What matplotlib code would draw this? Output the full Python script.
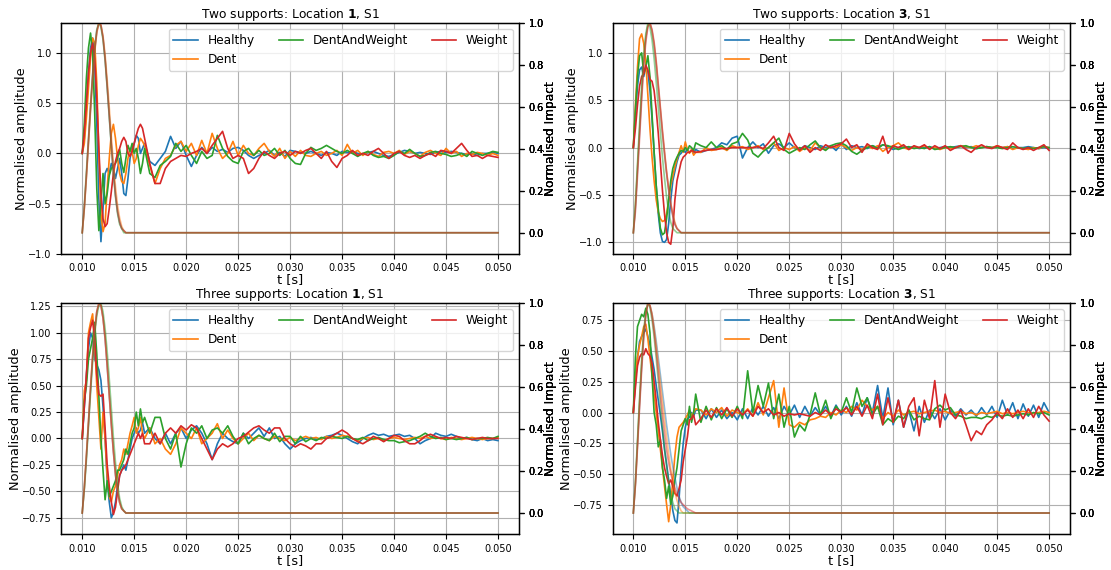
import numpy as np
import matplotlib.pyplot as plt

# time grid: fine around the impact, coarser afterwards
t_fine = np.round(np.arange(0.0100, 0.01601, 0.0002), 4)
t_coarse = np.round(np.arange(0.0165, 0.05001, 0.0005), 4)
t = np.concatenate([t_fine, t_coarse])
t_imp = np.append(np.round(np.arange(0.0100, 0.01701, 0.0002), 4), 0.050)

conditions = ["Healthy", "Dent", "DentAndWeight", "Weight"]
colors = ["tab:blue", "tab:orange", "tab:green", "tab:red"]

# ---------- Two supports, location 1 ----------
p1_healthy = [0.0, 0.15, 0.45, 0.8, 1.05, 1.15, 0.9, 0.3, -0.45, -0.88,
              -0.55, -0.2, -0.15, -0.2, -0.1, -0.15, -0.25, -0.15, -0.05, -0.2,
              -0.4, -0.42, -0.25, -0.05, 0.05, 0.1, 0.18, 0.15, 0.0, 0.05, 0.1,
              -0.08, -0.12, -0.05, 0.02, 0.17, 0.05, 0.12, -0.02, -0.13, -0.02,
              0.06, 0.0, 0.06, 0.02, 0.04, 0.01, 0.05, 0.06, 0.03, -0.02,
              -0.05, -0.02, 0.0, 0.03, -0.02, 0.01, -0.03, 0.03, 0.02, 0.01,
              0.0, 0.02, 0.0, -0.02, 0.01, 0.0, -0.02, 0.02, 0.01, 0.02,
              0.0, -0.01, 0.01, 0.02, 0.0, -0.02, -0.03, -0.01, 0.01, 0.03,
              0.02, 0.0, 0.01, 0.0, -0.01, 0.01, 0.02, 0.01, 0.02, 0.01,
              0.0, -0.01, 0.0, -0.02, 0.0, 0.0, 0.01, 0.0]
p1_dent = [0.0, 0.1, 0.35, 0.65, 0.95, 1.15, 1.1, 0.7, 0.0, -0.6,
           -0.78, -0.7, -0.35, -0.05, 0.2, 0.29, 0.15, -0.05, -0.2, -0.28,
           -0.3, -0.2, -0.05, 0.05, 0.02, -0.1, -0.05, 0.08, 0.15, 0.12, 0.08,
           -0.12, -0.3, -0.15, -0.05, -0.02, 0.08, 0.12, 0.02, 0.1, -0.02,
           0.13, 0.0, 0.2, 0.05, -0.05, 0.0, 0.12, -0.02, 0.08, 0.0,
           -0.02, 0.05, 0.1, 0.02, -0.03, 0.05, -0.05, 0.02, -0.03, 0.03,
           -0.02, -0.03, 0.0, 0.02, -0.02, 0.0, 0.03, -0.02, 0.09, 0.0,
           0.03, -0.02, 0.02, -0.01, -0.03, 0.01, 0.02, 0.0, 0.03, -0.01,
           0.02, 0.0, -0.03, 0.01, 0.03, 0.0, -0.02, 0.05, 0.0, 0.02,
           -0.03, 0.0, -0.01, 0.01, 0.0, -0.02, 0.0, -0.02]
p1_dentweight = [0.0, 0.3, 0.75, 1.05, 1.2, 1.0, 0.4, -0.35, -0.77, -0.5,
                 -0.2, -0.5, -0.4, -0.22, -0.15, -0.12, -0.1, -0.05, 0.04, -0.1,
                 -0.19, -0.05, 0.08, 0.02, 0.1, 0.0, 0.05, -0.05, -0.2, -0.1, 0.05,
                 -0.2, -0.24, -0.12, -0.08, -0.03, 0.1, 0.02, 0.08, -0.02, -0.1,
                 0.02, -0.05, -0.02, 0.18, 0.05, -0.03, -0.08, -0.1, 0.02, 0.05,
                 -0.02, 0.03, -0.02, 0.0, 0.05, -0.02, 0.03, -0.05, -0.1, -0.11,
                 0.0, 0.06, 0.03, 0.05, 0.08, 0.05, 0.02, 0.0, 0.03, 0.0,
                 -0.03, 0.0, 0.02, -0.02, -0.04, -0.03, -0.05, -0.02, 0.02, 0.0,
                 0.04, 0.0, -0.03, -0.02, 0.01, 0.02, 0.0, -0.01, -0.03, -0.02,
                 0.0, -0.03, 0.02, 0.0, -0.02, 0.0, 0.02, 0.01]
p1_weight = [0.0, 0.2, 0.5, 0.8, 1.0, 1.1, 0.95, 0.55, 0.05, -0.4,
             -0.65, -0.73, -0.7, -0.55, -0.38, -0.2, -0.08, 0.0, 0.05, 0.12,
             0.16, 0.12, 0.0, -0.03, 0.02, 0.1, 0.18, 0.25, 0.29, 0.25, 0.15,
             -0.1, -0.3, -0.3, -0.15, -0.08, -0.05, -0.02, -0.03, 0.0, 0.02,
             0.05, 0.0, 0.08, 0.15, 0.22, 0.05, -0.05, -0.02, -0.05, -0.2,
             -0.15, -0.05, 0.02, -0.02, -0.05, 0.0, 0.02, -0.02, 0.02, 0.0,
             0.03, 0.05, 0.0, -0.05, 0.02, -0.08, -0.14, -0.05, -0.02, 0.03,
             -0.02, 0.0, -0.02, 0.02, 0.05, 0.0, -0.05, 0.0, 0.02, -0.02,
             -0.04, -0.02, -0.05, -0.02, 0.0, -0.03, 0.03, 0.02, 0.0, 0.05,
             0.1, 0.03, -0.03, -0.02, -0.05, -0.02, -0.03, -0.04]
p1_imp_healthy = [0.0, 0.12, 0.27, 0.43, 0.59, 0.74, 0.87, 0.96, 1.0, 0.99,
                  0.93, 0.83, 0.7, 0.56, 0.42, 0.29, 0.18, 0.1, 0.05, 0.02,
                  0.01, 0.0, 0.0, 0.0, 0.0, 0.0, 0.0, 0.0, 0.0, 0.0,
                  0.0, 0.0, 0.0, 0.0, 0.0, 0.0, 0.0]
p1_imp_dent = [0.0, 0.11, 0.26, 0.42, 0.58, 0.73, 0.86, 0.95, 1.0, 0.99,
               0.94, 0.85, 0.73, 0.6, 0.46, 0.33, 0.22, 0.13, 0.07, 0.03,
               0.01, 0.0, 0.0, 0.0, 0.0, 0.0, 0.0, 0.0, 0.0, 0.0,
               0.0, 0.0, 0.0, 0.0, 0.0, 0.0, 0.0]
p1_imp_dentweight = [0.0, 0.13, 0.29, 0.45, 0.61, 0.76, 0.88, 0.97, 1.0, 0.98,
                     0.92, 0.82, 0.69, 0.55, 0.41, 0.28, 0.17, 0.09, 0.04, 0.02,
                     0.0, 0.0, 0.0, 0.0, 0.0, 0.0, 0.0, 0.0, 0.0, 0.0,
                     0.0, 0.0, 0.0, 0.0, 0.0, 0.0, 0.0]
p1_imp_weight = [0.0, 0.12, 0.27, 0.44, 0.6, 0.75, 0.87, 0.96, 1.0, 0.99,
                 0.93, 0.83, 0.7, 0.56, 0.42, 0.29, 0.18, 0.1, 0.05, 0.02,
                 0.01, 0.0, 0.0, 0.0, 0.0, 0.0, 0.0, 0.0, 0.0, 0.0,
                 0.0, 0.0, 0.0, 0.0, 0.0, 0.0, 0.0]

# ---------- Two supports, location 3 ----------
p2_healthy = [0.0, 0.35, 0.65, 0.82, 0.85, 0.75, 0.85, 0.8, 0.6, 0.3,
              -0.05, -0.4, -0.7, -0.9, -0.99, -1.0, -0.97, -0.8, -0.55, -0.35,
              -0.25, -0.15, -0.08, -0.06, -0.03, -0.05, -0.02, -0.05, -0.03, -0.06, -0.02,
              -0.05, -0.03, -0.02, 0.0, 0.05, 0.03, 0.1, 0.12, -0.11, 0.0,
              0.06, 0.0, 0.04, -0.06, 0.02, 0.04, 0.0, 0.05, 0.0, -0.02,
              0.02, 0.0, -0.02, 0.02, 0.0, 0.02, -0.03, 0.04, -0.02, 0.02,
              0.0, 0.01, -0.01, 0.02, 0.0, 0.03, 0.01, -0.02, 0.0, 0.01,
              0.0, 0.01, -0.01, 0.0, 0.01, -0.01, 0.0, 0.01, 0.0, 0.01,
              0.02, 0.0, 0.01, -0.01, 0.0, 0.01, 0.0, 0.01, 0.0, 0.01,
              -0.01, 0.0, 0.0, 0.01, 0.0, -0.01, 0.0, -0.01]
p2_dent = [0.0, 0.45, 0.85, 1.15, 1.2, 1.1, 0.9, 0.55, 0.2, -0.1,
           -0.35, -0.55, -0.68, -0.75, -0.78, -0.77, -0.7, -0.55, -0.4, -0.3,
           -0.2, -0.12, -0.05, 0.02, -0.05, 0.06, -0.02, -0.06, -0.02, -0.08, -0.05,
           -0.05, 0.0, -0.03, -0.02, 0.0, -0.03, 0.02, 0.0, 0.01, -0.02,
           0.0, 0.02, -0.02, 0.0, 0.05, -0.03, 0.0, -0.02, 0.01, -0.04,
           0.0, -0.03, 0.05, 0.0, -0.02, 0.02, 0.0, 0.03, 0.0, -0.03,
           0.0, -0.02, 0.02, -0.01, 0.02, -0.04, 0.0, 0.02, 0.05, 0.0,
           -0.02, 0.01, 0.0, 0.02, -0.01, 0.0, -0.02, 0.0, -0.01, 0.0,
           0.02, 0.01, 0.0, 0.02, 0.0, 0.01, 0.0, 0.02, 0.0, 0.01,
           -0.02, 0.0, -0.01, -0.02, 0.0, -0.01, 0.01, 0.0]
p2_dentweight = [0.0, 0.4, 0.75, 0.97, 1.0, 0.78, 0.85, 0.97, 0.75, 0.35,
                 -0.05, -0.4, -0.65, -0.85, -0.92, -0.9, -0.75, -0.55, -0.35, -0.22,
                 -0.15, -0.1, -0.06, -0.03, -0.04, 0.0, -0.03, 0.02, 0.0, -0.03, 0.05,
                 0.02, 0.0, 0.06, 0.0, 0.02, -0.02, 0.04, 0.06, 0.15, 0.08,
                 -0.06, -0.1, -0.04, 0.0, 0.05, 0.1, -0.02, -0.06, -0.03, 0.0,
                 -0.02, 0.03, 0.07, 0.0, -0.03, 0.02, 0.04, 0.05, 0.02, -0.04,
                 -0.07, -0.03, 0.0, 0.02, -0.01, 0.03, 0.02, 0.0, -0.02, 0.0,
                 0.01, -0.01, 0.0, -0.01, 0.01, -0.02, -0.01, 0.0, 0.01, 0.0,
                 0.01, 0.02, 0.0, -0.01, 0.0, 0.01, 0.0, 0.0, -0.01, 0.0,
                 0.01, 0.0, -0.01, 0.0, -0.01, 0.0, 0.01, 0.0]
p2_weight = [0.0, 0.2, 0.45, 0.65, 0.75, 0.78, 0.87, 0.82, 0.72, 0.7,
             0.6, 0.4, 0.15, -0.15, -0.45, -0.7, -0.9, -1.0, -1.02, -0.85,
             -0.55, -0.35, -0.25, -0.15, -0.1, -0.08, -0.05, -0.05, -0.03, -0.04, -0.05,
             -0.04, -0.03, -0.02, -0.02, -0.01, -0.01, 0.0, 0.0, 0.0, 0.0,
             0.0, 0.01, -0.01, 0.05, 0.12, 0.0, -0.03, 0.15, 0.04, -0.03,
             0.02, -0.05, 0.0, -0.03, 0.03, 0.0, 0.02, 0.04, 0.09, 0.0,
             0.03, -0.05, 0.04, 0.0, -0.02, 0.12, -0.06, 0.02, 0.0, 0.03,
             -0.02, 0.02, 0.0, 0.03, -0.02, 0.02, -0.01, 0.02, -0.03, 0.0,
             0.02, -0.02, -0.05, 0.0, 0.03, 0.0, -0.01, 0.02, 0.0, -0.02,
             0.05, 0.0, -0.02, 0.0, -0.03, 0.0, 0.03, -0.03]
p2_imp_healthy = [0.0, 0.12, 0.3, 0.48, 0.66, 0.81, 0.93, 0.99, 1.0, 0.96,
                  0.89, 0.8, 0.69, 0.58, 0.47, 0.37, 0.28, 0.2, 0.13, 0.08,
                  0.04, 0.02, 0.01, 0.0, 0.0, 0.0, 0.0, 0.0, 0.0, 0.0,
                  0.0, 0.0, 0.0, 0.0, 0.0, 0.0, 0.0]
p2_imp_dent = [0.0, 0.13, 0.31, 0.49, 0.67, 0.82, 0.93, 0.99, 1.0, 0.96,
               0.9, 0.81, 0.7, 0.59, 0.48, 0.38, 0.29, 0.21, 0.14, 0.09,
               0.05, 0.02, 0.01, 0.0, 0.0, 0.0, 0.0, 0.0, 0.0, 0.0,
               0.0, 0.0, 0.0, 0.0, 0.0, 0.0, 0.0]
p2_imp_dentweight = [0.0, 0.14, 0.33, 0.52, 0.7, 0.85, 0.95, 1.0, 0.98, 0.92,
                     0.83, 0.72, 0.6, 0.48, 0.36, 0.26, 0.17, 0.1, 0.05, 0.02,
                     0.01, 0.0, 0.0, 0.0, 0.0, 0.0, 0.0, 0.0, 0.0, 0.0,
                     0.0, 0.0, 0.0, 0.0, 0.0, 0.0, 0.0]
p2_imp_weight = [0.0, 0.1, 0.27, 0.45, 0.63, 0.79, 0.91, 0.98, 1.0, 0.97,
                 0.91, 0.82, 0.71, 0.6, 0.49, 0.39, 0.29, 0.21, 0.14, 0.08,
                 0.04, 0.02, 0.01, 0.0, 0.0, 0.0, 0.0, 0.0, 0.0, 0.0,
                 0.0, 0.0, 0.0, 0.0, 0.0, 0.0, 0.0]

# ---------- Three supports, location 1 ----------
p3_healthy = [0.0, 0.3, 0.6, 0.85, 1.0, 0.95, 0.75, 0.7, 0.65, 0.55,
              0.3, 0.0, -0.4, -0.6, -0.75, -0.7, -0.6, -0.45, -0.35, -0.3,
              -0.25, -0.3, -0.2, -0.1, 0.0, 0.05, 0.1, 0.05, 0.08, 0.15, 0.05,
              0.1, 0.0, -0.05, 0.05, -0.05, 0.05, 0.1, 0.0, 0.08, 0.12,
              0.05, -0.05, -0.2, -0.05, 0.05, 0.0, -0.03, -0.05, 0.05, 0.0,
              0.05, 0.1, 0.02, 0.1, 0.0, 0.02, -0.05, -0.1, -0.05, -0.02,
              0.0, 0.01, -0.01, 0.0, 0.02, 0.03, 0.05, 0.03, 0.0, -0.03,
              -0.05, 0.0, 0.03, 0.05, 0.03, 0.04, 0.02, 0.03, 0.04, 0.02,
              0.03, 0.0, -0.05, -0.02, 0.0, 0.05, 0.03, 0.02, 0.04, 0.02,
              0.0, 0.01, -0.01, -0.02, 0.0, -0.02, -0.01, -0.02]
p3_dent = [0.0, 0.45, 0.55, 1.0, 1.1, 1.18, 0.9, 0.5, 0.2, -0.1,
           0.25, 0.0, -0.35, -0.55, -0.6, -0.5, -0.45, -0.35, -0.25, -0.2,
           -0.1, -0.15, -0.05, 0.05, 0.12, 0.2, 0.05, 0.1, 0.2, 0.05, 0.0,
           0.1, -0.05, 0.0, -0.1, -0.15, -0.05, 0.1, 0.05, 0.0, 0.1,
           -0.05, 0.0, 0.05, 0.14, 0.0, 0.08, 0.0, -0.05, 0.0, 0.05,
           -0.02, 0.03, 0.0, -0.02, 0.02, 0.0, -0.02, 0.01, -0.02, 0.0,
           0.02, 0.0, 0.01, -0.01, 0.02, 0.0, 0.01, 0.03, 0.02, 0.0,
           -0.02, 0.0, 0.01, -0.01, 0.0, -0.02, 0.0, 0.01, 0.0, -0.01,
           0.0, 0.01, 0.0, 0.02, 0.0, 0.01, 0.0, -0.01, 0.01, 0.0,
           -0.01, 0.0, 0.01, 0.0, -0.01, 0.0, 0.0, 0.01]
p3_dentweight = [0.0, 0.35, 0.5, 0.75, 0.85, 0.95, 1.1, 0.8, 0.4, 0.0,
                 -0.3, -0.58, -0.4, -0.55, -0.5, -0.45, -0.4, -0.3, -0.3, -0.25,
                 -0.2, -0.1, -0.15, -0.05, 0.05, 0.1, 0.25, 0.12, 0.28, 0.15, 0.2,
                 0.05, 0.2, 0.2, 0.0, -0.1, 0.05, -0.27, -0.05, 0.1, 0.05,
                 0.12, 0.0, 0.08, 0.1, 0.05, 0.12, 0.02, -0.05, 0.05, -0.05,
                 0.0, 0.03, 0.0, -0.02, 0.05, -0.03, 0.02, 0.02, -0.05, 0.02,
                 -0.03, 0.0, -0.02, 0.01, 0.0, 0.02, 0.01, 0.0, 0.02, 0.0,
                 -0.01, 0.01, -0.02, 0.0, 0.01, -0.01, -0.02, -0.02, -0.04, -0.03,
                 -0.02, 0.0, 0.02, 0.05, 0.02, 0.0, 0.01, -0.01, 0.0, -0.01,
                 0.0, 0.01, -0.01, 0.0, 0.0, 0.01, 0.0, 0.02]
p3_weight = [0.0, 0.3, 0.6, 0.95, 1.05, 1.12, 0.95, 0.6, 0.42, 0.4,
             0.42, 0.1, -0.25, -0.45, -0.6, -0.72, -0.65, -0.5, -0.35, -0.3,
             -0.28, -0.25, -0.2, -0.15, -0.1, -0.05, 0.0, 0.05, 0.0, 0.05, -0.05,
             -0.05, 0.05, -0.05, 0.05, 0.1, 0.05, 0.12, 0.08, 0.13, 0.1,
             0.0, -0.1, -0.2, -0.1, -0.05, -0.08, -0.05, 0.0, 0.02, 0.06,
             0.1, 0.12, 0.08, 0.05, 0.1, 0.1, 0.0, -0.05, -0.08, -0.05,
             -0.07, -0.1, -0.05, -0.05, 0.0, 0.02, 0.05, 0.08, 0.05, 0.0,
             -0.03, -0.05, -0.02, 0.02, 0.0, -0.03, 0.0, 0.03, 0.02, -0.02,
             -0.05, -0.05, -0.02, 0.02, 0.04, 0.02, 0.0, 0.01, 0.0, 0.02,
             0.01, 0.0, -0.01, 0.0, 0.01, 0.0, 0.0, 0.0]
p3_imp_healthy = [0.0, 0.12, 0.27, 0.43, 0.59, 0.74, 0.87, 0.96, 1.0, 0.99,
                  0.93, 0.83, 0.7, 0.56, 0.42, 0.29, 0.18, 0.1, 0.05, 0.02,
                  0.01, 0.0, 0.0, 0.0, 0.0, 0.0, 0.0, 0.0, 0.0, 0.0,
                  0.0, 0.0, 0.0, 0.0, 0.0, 0.0, 0.0]
p3_imp_dent = [0.0, 0.12, 0.28, 0.44, 0.6, 0.75, 0.87, 0.96, 1.0, 0.99,
               0.93, 0.84, 0.71, 0.57, 0.43, 0.3, 0.19, 0.11, 0.05, 0.02,
               0.01, 0.0, 0.0, 0.0, 0.0, 0.0, 0.0, 0.0, 0.0, 0.0,
               0.0, 0.0, 0.0, 0.0, 0.0, 0.0, 0.0]
p3_imp_dentweight = [0.0, 0.11, 0.25, 0.41, 0.57, 0.72, 0.85, 0.94, 0.99, 1.0,
                     0.96, 0.88, 0.77, 0.64, 0.5, 0.36, 0.24, 0.14, 0.07, 0.03,
                     0.01, 0.0, 0.0, 0.0, 0.0, 0.0, 0.0, 0.0, 0.0, 0.0,
                     0.0, 0.0, 0.0, 0.0, 0.0, 0.0, 0.0]
p3_imp_weight = [0.0, 0.12, 0.27, 0.43, 0.6, 0.75, 0.87, 0.96, 1.0, 0.99,
                 0.93, 0.83, 0.7, 0.56, 0.42, 0.29, 0.18, 0.1, 0.05, 0.02,
                 0.01, 0.0, 0.0, 0.0, 0.0, 0.0, 0.0, 0.0, 0.0, 0.0,
                 0.0, 0.0, 0.0, 0.0, 0.0, 0.0, 0.0]

# ---------- Three supports, location 3 ----------
p4_healthy = [0.0, 0.25, 0.45, 0.58, 0.62, 0.65, 0.68, 0.62, 0.55, 0.45,
              0.35, 0.22, 0.1, -0.02, -0.15, -0.3, -0.42, -0.55, -0.68, -0.8,
              -0.88, -0.9, -0.7, -0.45, -0.25, -0.12, -0.05, -0.04, 0.0, -0.03, 0.02,
              0.02, -0.05, 0.03, -0.04, 0.02, -0.05, 0.0, -0.06, 0.03, -0.05,
              0.04, -0.02, 0.05, -0.03, 0.04, -0.05, 0.05, -0.02, 0.06, -0.04,
              0.05, -0.03, 0.04, -0.02, 0.05, -0.03, 0.06, -0.02, 0.05, -0.03,
              0.08, -0.02, 0.12, 0.0, 0.22, -0.05, 0.2, -0.1, 0.1, -0.12,
              0.02, -0.15, 0.05, -0.08, 0.02, -0.05, 0.03, -0.06, 0.02, -0.03,
              0.03, -0.02, 0.02, -0.03, 0.04, -0.02, 0.05, -0.04, 0.1, -0.02,
              0.08, -0.05, 0.07, -0.03, 0.06, -0.04, 0.08, 0.0]
p4_dent = [0.0, 0.3, 0.45, 0.55, 0.62, 0.7, 0.72, 0.6, 0.45, 0.3,
           0.15, 0.0, -0.15, -0.3, -0.45, -0.6, -0.75, -0.89, -0.75, -0.55,
           -0.35, -0.2, -0.12, -0.1, -0.08, -0.05, -0.02, 0.02, -0.03, 0.0, 0.03,
           0.02, -0.02, 0.03, 0.0, 0.04, -0.03, 0.02, 0.0, -0.02, 0.03,
           -0.03, 0.08, -0.02, 0.12, 0.26, -0.12, 0.2, -0.1, -0.12, -0.08,
           -0.1, -0.06, -0.05, -0.03, -0.04, 0.0, -0.02, 0.02, 0.0, 0.05,
           0.02, 0.1, 0.05, 0.02, 0.05, -0.05, 0.0, -0.03, 0.02, -0.02,
           0.0, 0.01, -0.01, 0.0, 0.01, 0.02, 0.0, 0.01, -0.01, 0.0,
           0.01, -0.01, 0.0, -0.02, 0.0, -0.01, 0.0, 0.01, -0.01, 0.0,
           -0.01, 0.0, 0.01, 0.0, -0.01, 0.0, 0.01, 0.0]
p4_dentweight = [0.0, 0.45, 0.7, 0.75, 0.8, 0.78, 0.85, 0.8, 0.65, 0.3,
                 0.0, -0.1, -0.28, -0.22, -0.45, -0.55, -0.7, -0.6, -0.75, -0.68,
                 -0.55, -0.45, -0.3, -0.15, -0.1, -0.05, -0.1, 0.05, -0.08, 0.0, 0.15,
                 -0.08, 0.05, -0.06, 0.04, -0.05, 0.03, -0.04, 0.05, -0.05, 0.34,
                 0.0, 0.22, 0.05, 0.24, -0.05, 0.15, -0.12, 0.05, -0.2, -0.1,
                 -0.15, -0.02, 0.16, -0.02, 0.1, -0.05, 0.05, 0.0, 0.12, 0.0,
                 0.2, 0.05, 0.12, -0.02, 0.05, -0.1, -0.05, -0.08, -0.03, -0.05,
                 0.02, -0.06, -0.03, -0.05, -0.06, 0.03, 0.06, 0.02, 0.04, -0.02,
                 -0.03, -0.05, -0.04, -0.04, -0.05, -0.03, -0.04, -0.02, -0.03, -0.02,
                 -0.03, -0.02, -0.01, -0.02, 0.0, -0.01, 0.0, -0.02]
p4_weight = [0.0, 0.2, 0.38, 0.45, 0.48, 0.47, 0.52, 0.48, 0.46, 0.4,
             0.25, 0.1, -0.08, -0.22, -0.35, -0.45, -0.52, -0.58, -0.55, -0.6,
             -0.66, -0.68, -0.62, -0.55, -0.4, -0.3, -0.2, -0.06, -0.05, -0.02, -0.1,
             -0.05, 0.02, -0.04, 0.03, -0.02, 0.04, -0.03, 0.03, -0.02, 0.02,
             -0.03, 0.05, 0.0, 0.03, -0.02, 0.0, -0.03, -0.01, -0.02, -0.01,
             -0.02, -0.03, 0.0, -0.02, 0.02, -0.02, 0.03, 0.0, 0.04, -0.02,
             0.05, -0.03, 0.06, -0.05, 0.15, -0.1, 0.12, -0.08, 0.1, -0.12,
             0.05, 0.12, -0.19, 0.1, -0.05, 0.26, -0.12, 0.15, 0.0, -0.05,
             0.02, -0.1, -0.23, -0.15, -0.18, -0.1, -0.06, 0.0, -0.05, 0.03,
             -0.04, 0.02, -0.05, 0.03, -0.04, 0.05, -0.02, -0.07]
p4_imp_healthy = [0.0, 0.14, 0.33, 0.52, 0.7, 0.85, 0.95, 1.0, 0.99, 0.95,
                  0.89, 0.82, 0.74, 0.66, 0.58, 0.5, 0.42, 0.35, 0.28, 0.22,
                  0.17, 0.12, 0.08, 0.05, 0.03, 0.02, 0.01, 0.0, 0.0, 0.0,
                  0.0, 0.0, 0.0, 0.0, 0.0, 0.0, 0.0]
p4_imp_dent = [0.0, 0.14, 0.33, 0.53, 0.71, 0.86, 0.95, 1.0, 0.99, 0.95,
               0.88, 0.8, 0.71, 0.62, 0.53, 0.44, 0.36, 0.28, 0.21, 0.15,
               0.1, 0.06, 0.03, 0.01, 0.0, 0.0, 0.0, 0.0, 0.0, 0.0,
               0.0, 0.0, 0.0, 0.0, 0.0, 0.0, 0.0]
p4_imp_dentweight = [0.0, 0.15, 0.35, 0.55, 0.73, 0.87, 0.96, 1.0, 0.98, 0.92,
                     0.84, 0.74, 0.63, 0.52, 0.41, 0.31, 0.22, 0.15, 0.09, 0.05,
                     0.02, 0.01, 0.0, 0.0, 0.0, 0.0, 0.0, 0.0, 0.0, 0.0,
                     0.0, 0.0, 0.0, 0.0, 0.0, 0.0, 0.0]
p4_imp_weight = [0.0, 0.13, 0.31, 0.5, 0.68, 0.83, 0.94, 1.0, 0.99, 0.94,
                 0.86, 0.77, 0.67, 0.57, 0.47, 0.38, 0.3, 0.24, 0.19, 0.15,
                 0.12, 0.09, 0.07, 0.05, 0.04, 0.03, 0.02, 0.015, 0.01, 0.005,
                 0.0, 0.0, 0.0, 0.0, 0.0, 0.0, 0.0]

titles = ["Two supports: Location $\\bf{1}$, S1",
          "Two supports: Location $\\bf{3}$, S1",
          "Three supports: Location $\\bf{1}$, S1",
          "Three supports: Location $\\bf{3}$, S1"]
signals = [[p1_healthy, p1_dent, p1_dentweight, p1_weight],
           [p2_healthy, p2_dent, p2_dentweight, p2_weight],
           [p3_healthy, p3_dent, p3_dentweight, p3_weight],
           [p4_healthy, p4_dent, p4_dentweight, p4_weight]]
impacts = [[p1_imp_healthy, p1_imp_dent, p1_imp_dentweight, p1_imp_weight],
           [p2_imp_healthy, p2_imp_dent, p2_imp_dentweight, p2_imp_weight],
           [p3_imp_healthy, p3_imp_dent, p3_imp_dentweight, p3_imp_weight],
           [p4_imp_healthy, p4_imp_dent, p4_imp_dentweight, p4_imp_weight]]
amp_limits = [(-1.0, 1.3), (-1.12, 1.315), (-0.904, 1.28), (-0.99, 0.89)]

plt.rcParams["xtick.labelsize"] = 7
plt.rcParams["ytick.labelsize"] = 7

fig, axes = plt.subplots(2, 2, figsize=(11.11, 5.70), dpi=100)
plt.subplots_adjust(left=0.0553, right=0.963, top=0.9596, bottom=0.0632,
                    wspace=0.205, hspace=0.215)

for ax, title, sigs, imps, lim in zip(axes.flat, titles, signals, impacts, amp_limits):
    for name, sig, col in zip(conditions, sigs, colors):
        ax.plot(t, sig, color=col, label=name, lw=1.2)
    ax.set_ylim(lim)
    ax.grid(True)
    ax.set_title(title, fontsize=8.8, pad=2)
    ax.set_xlabel("t [s]", fontsize=9.3, labelpad=0)
    ax.set_ylabel("Normalised amplitude", fontsize=9.3, labelpad=0)
    ax.legend(loc="upper right", ncol=3, fontsize=8.7)
    # one twin axis per condition for the impact pulse
    for imp, col in zip(imps, colors):
        ax2 = ax.twinx()
        ax2.plot(t_imp, imp, color=col, alpha=0.5, lw=1.2)
        ax2.set_ylim(-0.1, 1.0)
        ax2.set_ylabel("Normalised Impact", fontsize=8.7, labelpad=0)

plt.savefig("out.png", dpi=100)
